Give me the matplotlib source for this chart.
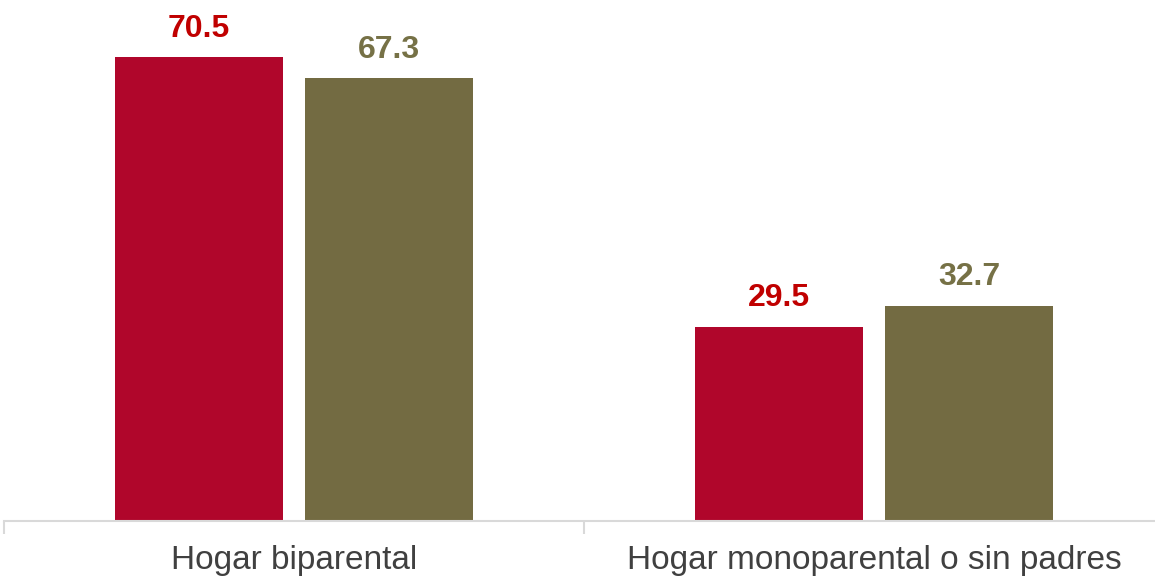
import matplotlib
matplotlib.use("Agg")
import matplotlib.pyplot as plt
import numpy as np

categories = ["Hogar biparental", "Hogar monoparental o sin padres"]
series_a = [70.5, 29.5]
series_b = [67.3, 32.7]

plt.rcParams['font.family'] = ['Liberation Sans', 'DejaVu Sans']

fig = plt.figure(figsize=(11.55, 5.79), dpi=100)
ax = fig.add_axes([4/1155, 58/579, 1160/1155, 521/579])

x = np.arange(len(categories))
w = 0.29
off = 0.1638
bar_a_color = "#B0062B"
bar_b_color = "#736B42"
txt_a_color = "#C00000"
txt_b_color = "#767146"

ba = ax.bar(x - off, series_a, w, color=bar_a_color)
bb = ax.bar(x + off, series_b, w, color=bar_b_color)

for rects, vals, c in [(ba, series_a, txt_a_color), (bb, series_b, txt_b_color)]:
    for r, v in zip(rects, vals):
        ax.annotate(f"{v:.1f}", (r.get_x() + r.get_width() / 2, v),
                    xytext=(0, 9.7), textcoords="offset points",
                    ha="center", va="bottom", fontsize=23, fontweight="bold", color=c)

ax.set_xlim(-0.5, 1.5)
ax.set_ylim(0, 79.2)
ax.set_yticks([])
for s in ["top", "right", "left"]:
    ax.spines[s].set_visible(False)
ax.spines["bottom"].set_color("#D9D9D9")
ax.spines["bottom"].set_linewidth(1.5)

ax.set_xticks([-0.5, 0.5, 1.5])
ax.set_xticklabels([])
ax.tick_params(axis="x", which="major", length=9, width=1.5, color="#D9D9D9")
ax.set_xticks(x, minor=True)
ax.set_xticklabels(categories, minor=True, fontsize=24, color="#404040")
ax.tick_params(axis="x", which="minor", length=0, pad=17)

fig.savefig("out.png", dpi=100)
